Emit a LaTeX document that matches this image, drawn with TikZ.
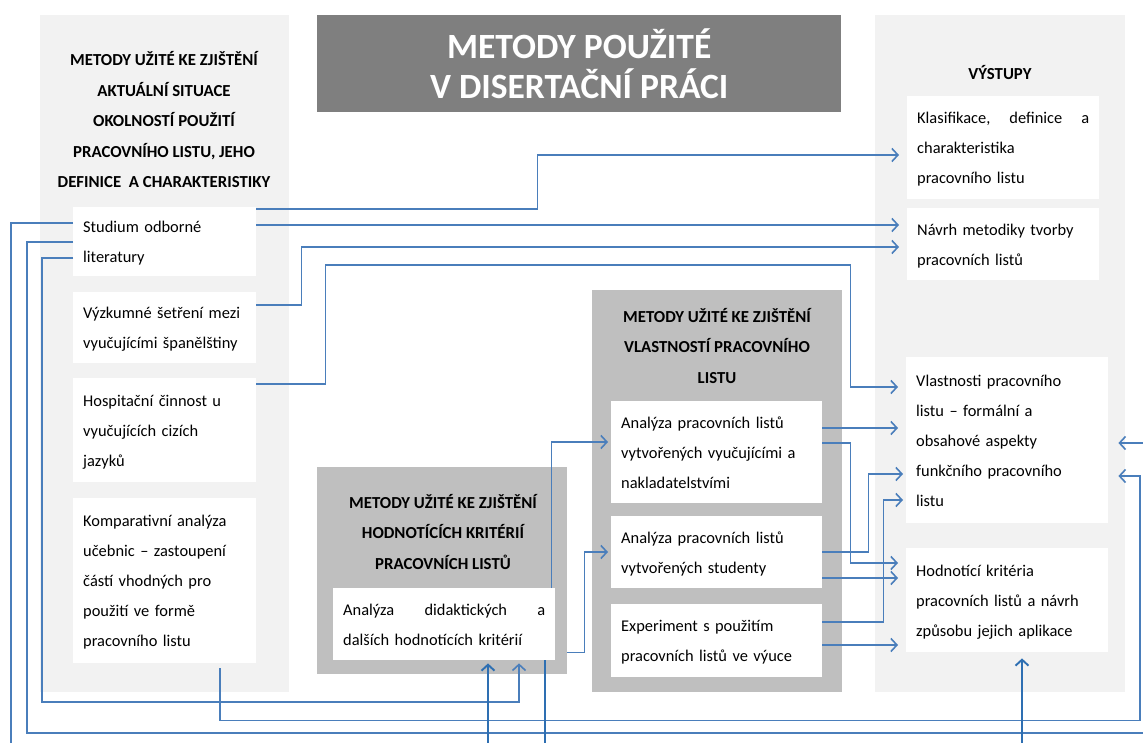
\documentclass[tikz,border=0pt]{standalone}
\usepackage{fontspec}
\setmainfont{Carlito}
\usetikzlibrary{arrows.meta,calc}
\definecolor{panel}{HTML}{F2F2F2}
\definecolor{titlegray}{HTML}{7F7F7F}
\definecolor{midgray}{HTML}{BFBFBF}
\definecolor{conncol}{HTML}{4A7EBB}
\definecolor{conndarkcol}{HTML}{2E6FB2}
\newcommand{\myBody}{\fontsize{16.4}{30}\selectfont}
\newcommand{\myHead}{\fontsize{16.8}{30.5}\selectfont\bfseries}
\newcommand{\myTitle}{\fontsize{35.5}{40}\selectfont\bfseries}
\newcommand{\myTop}{\rule{0pt}{17pt}}
\newcommand{\myBot}{\rule[-5pt]{0pt}{5pt}}
\tikzset{
  panelbox/.style={fill=panel, draw=none, anchor=north west, inner sep=0pt},
  graybox/.style={fill=midgray, draw=none, anchor=north west, inner sep=0pt},
  titlebox/.style={fill=titlegray, draw=none, anchor=north west, inner sep=0pt, text=white, align=center, font=\myTitle},
  headtext/.style={align=center, inner sep=0pt, font=\myHead},
  wbox/.style={fill=white, draw=none, anchor=north west, inner xsep=10pt, inner ysep=0pt, align=left, font=\myBody},
  tipstyle/.style={-{Straight Barb[length=6pt,width=13pt]}},
  connline/.style={draw=conncol, line width=1.6pt},
  conn/.style={connline, tipstyle},
  conndarkline/.style={draw=conndarkcol, line width=1.9pt},
  conndark/.style={conndarkline, tipstyle},
}
\begin{document}
\begin{tikzpicture}[x=1pt,y=-1pt]
\useasboundingbox (0,0) rectangle (1143,743);
\fill[white] (0,0) rectangle (1143,743);

% background panels
\node[panelbox, minimum width=249pt, minimum height=677pt] (lpanel) at (40,15) {};
\node[panelbox, minimum width=250pt, minimum height=677pt] (rpanel) at (875,15) {};
\node[graybox, minimum width=250pt, minimum height=402pt] (vgray) at (592,290) {};
\node[graybox, minimum width=250pt, minimum height=207pt] (hgray) at (317,467) {};
\node[titlebox, minimum width=524pt, minimum height=97pt] (title) at (317,15) {METODY POUŽITÉ\\V DISERTAČNÍ PRÁCI};

% headers
\node[headtext] (lhead) at (164,120) {METODY UŽITÉ KE ZJIŠTĚNÍ\\AKTUÁLNÍ SITUACE\\OKOLNOSTÍ POUŽITÍ\\PRACOVNÍHO LISTU, JEHO\\DEFINICE\ \ A CHARAKTERISTIKY};
\node[headtext] (rhead) at (1000,73) {VÝSTUPY};
\node[headtext] (vhead) at (717,346) {METODY UŽITÉ KE ZJIŠTĚNÍ\\VLASTNOSTÍ PRACOVNÍHO\\LISTU};
\node[headtext] (hhead) at (443,532) {METODY UŽITÉ KE ZJIŠTĚNÍ\\HODNOTÍCÍCH KRITÉRIÍ\\PRACOVNÍCH LISTŮ};

% left boxes
\node[wbox, text width=163pt, minimum height=69pt] (stud) at (73,207) {\myTop Studium odborné\\literatury\myBot};
\node[wbox, text width=163pt, minimum height=71pt] (vyzk) at (73,292) {\myTop Výzkumné šetření mezi\\vyučujícími španělštiny\myBot};
\node[wbox, text width=163pt, minimum height=104pt] (hosp) at (73,378) {\myTop Hospitační činnost u\\vyučujících cizích\\jazyků\myBot};
\node[wbox, text width=163pt, minimum height=165pt] (komp) at (73,498) {\myTop Komparativní analýza\\učebnic -- zastoupení\\částí vhodných pro\\použití ve formě\\pracovního listu\myBot};

% right boxes
\node[wbox, text width=172pt, minimum height=103pt] (klas) at (907,96) {\myTop\hbox to 172pt{Klasifikace,\hfill definice\hfill a}\\charakteristika\\pracovního listu\myBot};
\node[wbox, text width=172pt, minimum height=72pt] (navrh) at (907,208) {\myTop Návrh metodiky tvorby\\pracovních listů\myBot};
\node[wbox, text width=182pt, minimum height=166pt] (vlast) at (906,357) {\myTop Vlastnosti pracovního\\listu -- formální a\\obsahové aspekty\\funkčního pracovního\\listu\myBot};
\node[wbox, text width=182pt, minimum height=104pt] (hodn) at (906,548) {\myTop Hodnotící kritéria\\pracovních listů a návrh\\způsobu jejich aplikace\myBot};

% middle boxes
\node[wbox, text width=191pt, minimum height=102pt] (anvyu) at (611,401) {\myTop Analýza pracovních listů\\vytvořených vyučujícími a\\nakladatelstvími\myBot};
\node[wbox, text width=191pt, minimum height=72pt] (anstu) at (611,516) {\myTop Analýza pracovních listů\\vytvořených studenty\myBot};
\node[wbox, text width=191pt, minimum height=73pt] (exp) at (611,604) {\myTop Experiment s použitím\\pracovních listů ve výuce\myBot};
\node[wbox, text width=202pt, minimum height=72pt] (dida) at (333,588) {\myTop\hbox to 202pt{Analýza\hfill didaktických\hfill a}\\dalších hodnotících kritérií\myBot};

% free ends at the picture border
\coordinate (e13) at (11,743);
\coordinate (e14) at (1143,733);
\coordinate (e17) at (1143,443);
\coordinate (e18) at (488,743);
\coordinate (e19) at (545,743);
\coordinate (e20) at (1022,743);

% connectors
\draw[conn] ($(stud.north east)+(0,2)$) -- ++(281,0) |- ($(klas.north west)+(-8,59)$);
\draw[conn] ($(stud.north east)+(0,18)$) -- ($(navrh.north west)+(-8,17)$);
\draw[conn] ($(vyzk.north east)+(0,13)$) -- ++(45,0) |- ($(navrh.north west)+(-8,39)$);
\draw[conn] ($(hosp.north east)+(0,6)$) -- ++(69,0) -- ++(0,-119) -- ++(525,0) |- ($(vlast.north west)+(-8,30)$);
\draw[conn] ($(anvyu.north east)+(0,27)$) -- ($(vlast.north west)+(-8,71)$);
\draw[conn] ($(anvyu.north east)+(0,42)$) -- ++(28,0) |- ($(hodn.north west)+(-8,15)$);
\draw[conn] ($(anstu.north east)+(0,36)$) -- ++(46,0) |- ($(vlast.north west)+(-3,117)$);
\draw[conn] ($(anstu.north east)+(0,62)$) -- ($(hodn.north west)+(-8,30)$);
\draw[conn] ($(exp.north east)+(0,18)$) -- ++(61,0) |- ($(vlast.north west)+(-3,143)$);
\draw[conn] ($(exp.north east)+(0,41)$) -- ($(hodn.north west)+(-8,97)$);
\draw[conn] ($(dida.north east)+(-4,0)$) |- ($(anvyu.north west)+(-3,41)$);
\draw[conn] ($(hgray.south east)+(0,-22)$) -- ++(17,0) |- ($(anstu.north west)+(-3,36)$);
\draw[connline] ($(stud.north west)+(0,16)$) -| (e13);
\draw[connline] ($(stud.north west)+(0,35)$) -- ++(-46,0) |- (e14);
\draw[conn] ($(stud.north west)+(0,51)$) -- ++(-31,0) -- ++(0,444) -| ($(dida.south west)+(186,3)$);
\draw[conn] ($(komp.south west)+(147,5)$) -- ++(0,52) -- ++(920,0) |- ($(vlast.north east)+(10,119)$);
\draw[conn] (e17) -- ($(vlast.north east)+(10,86)$);
\draw[conndark] (e18) -- ($(dida.south west)+(155,3)$);
\draw[conndarkline] ($(dida.south west)+(212,0)$) -- (e19);
\draw[conndark] (e20) -- ($(hodn.south west)+(116,6)$);
\end{tikzpicture}
\end{document}
